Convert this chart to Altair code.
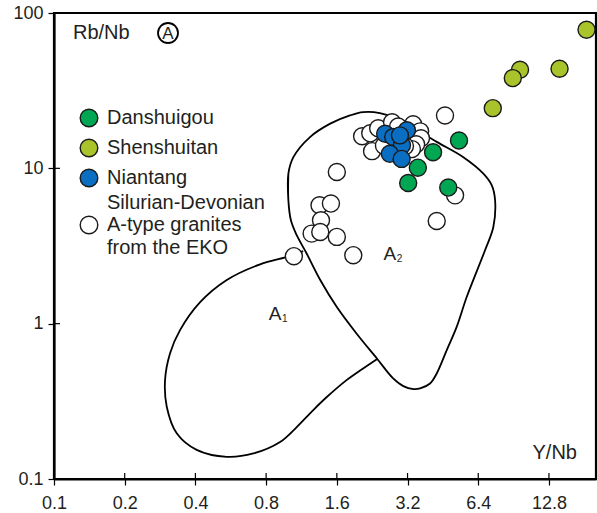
import altair as alt
import pandas as pd

# --- Sample ratios (Y/Nb on x, Rb/Nb on y) ---------------------------------
eko_ynb = [4.62, 1.60, 1.35, 1.51, 1.37, 1.25, 1.36, 1.60, 1.88, 1.05, 4.26, 5.10,
           2.05, 2.22, 2.26, 2.40, 2.75, 3.38, 3.62, 3.65, 3.48, 3.34, 3.12, 2.92, 2.54]
eko_rbnb = [21.9, 9.47, 5.78, 5.93, 4.63, 3.80, 3.89, 3.62, 2.76, 2.72, 4.58, 6.70,
            16.1, 16.8, 12.9, 18.1, 19.8, 19.2, 17.3, 15.6, 14.3, 13.3, 13.9, 18.6, 14.0]

danshuigou_ynb = [5.30, 4.11, 3.54, 3.22, 4.77]
danshuigou_rbnb = [15.1, 12.7, 10.1, 8.05, 7.52]

shenshuitan_ynb = [18.5, 9.64, 8.98, 14.2, 7.38]
shenshuitan_rbnb = [78.0, 43.1, 38.1, 43.8, 24.4]

niantang_ynb = [2.57, 3.18, 2.78, 3.03, 2.69, 3.02, 2.97]
niantang_rbnb = [16.7, 17.6, 15.9, 14.1, 12.4, 11.5, 16.3]

# --- Field boundaries (A1 / A2 subdivision) ---------------------------------
a2_ynb = [0.995, 0.995, 1.045, 1.23, 1.50, 1.82, 2.07, 2.44, 2.88, 4.26, 5.53, 6.73,
          7.31, 7.55, 7.42, 6.84, 5.72, 5.18, 4.70, 4.26, 3.99, 3.62, 3.39, 3.07,
          2.78, 2.37, 1.94, 1.60, 1.36, 1.19, 1.08, 1.02]
a2_rbnb = [6.22, 9.25, 11.8, 15.9, 19.4, 21.9, 23.0, 22.7, 20.9, 14.8, 11.8, 9.25,
           7.78, 6.22, 4.19, 2.97, 1.49, 0.954, 0.676, 0.478, 0.412, 0.383, 0.379, 0.396,
           0.444, 0.597, 0.865, 1.28, 1.91, 2.83, 3.71, 4.63]

a1_ynb = [1.15, 1.01, 0.754, 0.544, 0.418, 0.344, 0.312, 0.297, 0.302, 0.333, 0.405,
          0.544, 0.706, 0.917, 1.08, 1.27, 1.45, 1.76, 2.07, 2.37]
a1_rbnb = [2.93, 2.72, 2.41, 1.91, 1.37, 0.908, 0.646, 0.433, 0.292, 0.197, 0.154,
           0.139, 0.146, 0.173, 0.216, 0.278, 0.337, 0.433, 0.515, 0.591]

x_ticks = [0.1, 0.2, 0.4, 0.8, 1.6, 3.2, 6.4, 12.8]
y_ticks = [0.1, 1, 10, 100]

legend_names = ["Danshuigou", "Shenshuitan", "Niantang"]
legend_colors = ["#00a651", "#a8c42a", "#0a6fc2"]
eko_label = ["Silurian-Devonian", " A-type granites", "from the EKO"]

FONT = "Liberation Sans, Arial, Helvetica, sans-serif"
INK = "#231f20"
EDGE = "#1a1a1a"
W, H = 542, 466
SIZE = 290
TXT = 20

xs = alt.Scale(type="log", domain=[0.1, 20.3], nice=False)
ys = alt.Scale(type="log", domain=[0.1, 100], nice=False)

X_AXIS = alt.Axis(values=x_ticks, format=".1f", title="", labelPadding=9)
Y_AXIS = alt.Axis(values=y_ticks, format="~g", title="", labelPadding=5)


def enc_xy():
    return dict(x=alt.X("ynb:Q", scale=xs, axis=X_AXIS),
                y=alt.Y("rbnb:Q", scale=ys, axis=Y_AXIS))


def pts(xv, yv):
    return pd.DataFrame({"ynb": xv, "rbnb": yv})


def boundary(xv, yv, closed):
    if closed:
        xv = list(xv) + list(xv[:2])
        yv = list(yv) + list(yv[:2])
    return pd.DataFrame({"ynb": xv, "rbnb": yv, "i": range(len(xv))})


# field outlines, drawn as smooth curves through the traced vertices
a2_line = alt.Chart(boundary(a2_ynb, a2_rbnb, True)).mark_line(
    color="black", strokeWidth=1.8, interpolate="catmull-rom"
).encode(order="i:Q", **enc_xy())

a1_line = alt.Chart(boundary(a1_ynb, a1_rbnb, False)).mark_line(
    color="black", strokeWidth=1.8, interpolate="catmull-rom"
).encode(order="i:Q", **enc_xy())

# inward halves of the axis ticks
x_in = alt.Chart(pd.DataFrame({"ynb": x_ticks})).mark_rule(
    color="black", strokeWidth=1.2
).encode(x=alt.X("ynb:Q", scale=xs, axis=X_AXIS), y=alt.value(H - 6), y2=alt.value(H))
y_in = alt.Chart(pd.DataFrame({"rbnb": y_ticks})).mark_rule(
    color="black", strokeWidth=1.2
).encode(y=alt.Y("rbnb:Q", scale=ys, axis=Y_AXIS), x=alt.value(0), x2=alt.value(6))


def scatter(df, fill):
    return alt.Chart(df).mark_point(
        shape="circle", filled=True, fill=fill, stroke=EDGE, strokeWidth=1.4,
        opacity=1, size=SIZE
    ).encode(**enc_xy())


eko = scatter(pts(eko_ynb, eko_rbnb), "white")
dan = scatter(pts(danshuigou_ynb, danshuigou_rbnb), legend_colors[0])
shen = scatter(pts(shenshuitan_ynb, shenshuitan_rbnb), legend_colors[1])
nian = scatter(pts(niantang_ynb, niantang_rbnb), legend_colors[2])

# field labels A1 / A2
fields = pd.DataFrame({"ynb": [0.873, 2.69], "rbnb": [1.16, 2.80],
                       "main": ["A", "A"], "sub": ["1", "2"]})
field_main = alt.Chart(fields).mark_text(
    font=FONT, fontSize=19, color=INK, align="center", baseline="middle"
).encode(text="main:N", **enc_xy())
field_sub = alt.Chart(fields).mark_text(
    font=FONT, fontSize=10, color=INK, align="left", baseline="middle", dx=7, dy=5
).encode(text="sub:N", **enc_xy())


def label(text, x, y, size=TXT, align="left", baseline="middle"):
    return alt.Chart(pd.DataFrame({"s": [text]})).mark_text(
        font=FONT, fontSize=size, color=INK, align=align, baseline=baseline
    ).encode(x=alt.value(x), y=alt.value(y), text="s:N")


def swatch(fill, x, y):
    return alt.Chart(pd.DataFrame({"s": [0]})).mark_point(
        shape="circle", filled=True, fill=fill, stroke=EDGE, strokeWidth=1.4,
        opacity=1, size=310
    ).encode(x=alt.value(x), y=alt.value(y))


# axis captions and the panel tag
caption_y = label("Rb/Nb", 19, 20)
caption_x = label("Y/Nb", 523, 446, align="right", baseline="alphabetic")
tag_ring = alt.Chart(pd.DataFrame({"s": [0]})).mark_point(
    shape="circle", filled=False, stroke="black", strokeWidth=1.8, opacity=1, size=400
).encode(x=alt.value(114), y=alt.value(20))
tag_text = label("A", 114, 21, size=17, align="center")

# legend
legend_layers = []
for k, (name, col) in enumerate(zip(legend_names, legend_colors)):
    ly = 105 + 30 * k
    legend_layers.append(swatch(col, 35, ly))
    legend_layers.append(label(name, 53, ly))
legend_layers.append(swatch("white", 35, 212))
legend_layers.append(label(eko_label[0], 53, 190))
legend_layers.append(label(eko_label[1], 53, 212))
legend_layers.append(label(eko_label[2], 53, 235))

chart = alt.layer(
    a2_line, a1_line, x_in, y_in, eko, dan, shen, nian, field_main, field_sub,
    caption_y, caption_x, tag_ring, tag_text, *legend_layers
).properties(
    width=W, height=H,
    padding={"left": 54, "top": 13, "right": 1, "bottom": 34},
    autosize=alt.AutoSizeParams(type="none"),
    background="white",
).configure_axis(
    grid=False, domainColor="black", domainWidth=2.2,
    tickColor="black", tickWidth=1.2, tickSize=6,
    labelFont=FONT, labelFontSize=18, labelColor=INK, labelFlush=False,
    labelOverlap=False,
).configure_view(
    stroke="black", strokeWidth=2.2
)

chart.save("out.html", embed_options={"renderer": "svg", "actions": False})
